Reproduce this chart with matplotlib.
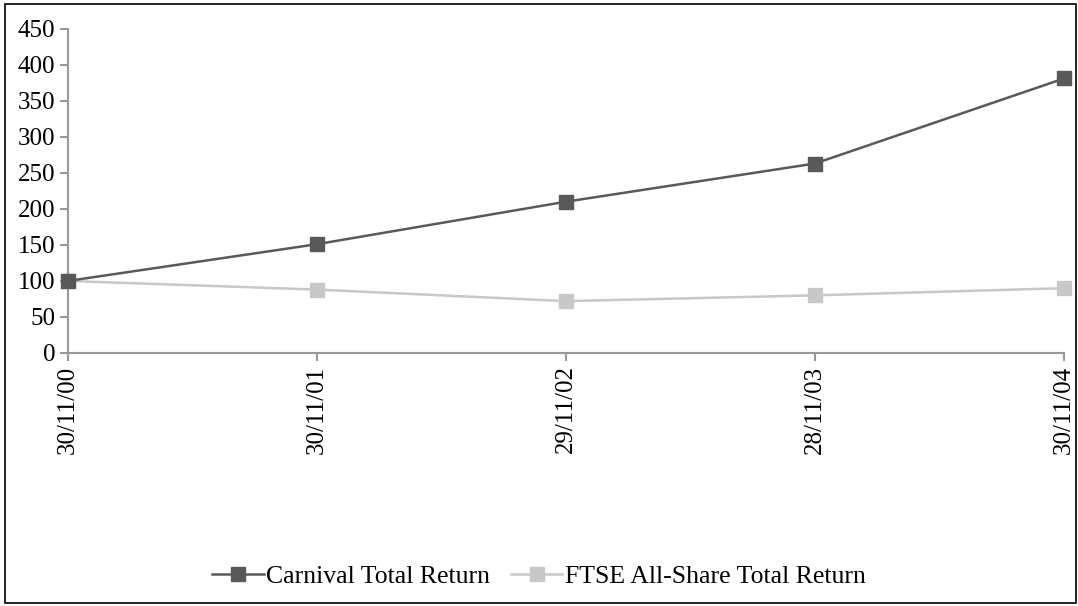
import matplotlib.pyplot as plt
from matplotlib.patches import Rectangle

plt.rcParams['font.family'] = ['Liberation Serif', 'DejaVu Serif']

dates = ["30/11/00", "30/11/01", "29/11/02", "28/11/03", "30/11/04"]
carnival = [100, 151, 210, 263, 381]
ftse = [100, 88, 72, 80, 90]

fig = plt.figure(figsize=(10.78, 6.06), dpi=100)
ax = fig.add_axes([0.063, 0.4175, 0.924, 0.535])

x = range(len(dates))
ax.plot(x, carnival, color="#595959", lw=1.8, marker="s", ms=10,
        label="Carnival Total Return", clip_on=False, zorder=3)
ax.plot(x, ftse, color="#c8c8c8", lw=1.8, marker="s", ms=10,
        label="FTSE All-Share Total Return", clip_on=False, zorder=2)

ax.set_xlim(0, len(dates) - 1)
ax.set_ylim(0, 450)
ax.set_yticks(range(0, 451, 50))
ax.set_xticks(list(x))
ax.set_xticklabels(dates, rotation=90)

for s in ["top", "right"]:
    ax.spines[s].set_visible(False)
for s in ["left", "bottom"]:
    ax.spines[s].set_color("#999999")
    ax.spines[s].set_linewidth(1.5)
ax.tick_params(colors="#999999", labelcolor="black", labelsize=18,
               length=6, width=1.5, pad=3)

fig.legend(loc="center", bbox_to_anchor=(0.5, 0.048), ncol=2, frameon=False,
           fontsize=18.5, handlelength=2.0, handletextpad=0.1, columnspacing=0.8)

fig.patches.append(Rectangle((0.005, 0.005), 0.993, 0.988, transform=fig.transFigure,
                             fill=False, edgecolor="black", lw=1.2))

fig.savefig("out.png", dpi=100)
